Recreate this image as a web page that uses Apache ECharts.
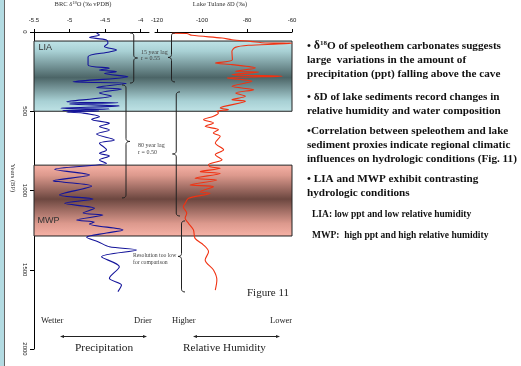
<!DOCTYPE html>
<html lang="en" style="height: 100%">
<head>
  <meta charset="utf-8">
</head>
<body style="height: 100%; margin: 0; background: #fff">
  <div id="container" style="width: 521px; height: 366px"></div>

  <script type="text/javascript" src="https://fastly.jsdelivr.net/npm/echarts@6.0.0/dist/echarts.min.js"></script>
  <script type="text/javascript">
// BRC speleothem d18O (permil vPDB) against age (years BP)
var brcYears = [6, 19, 33, 50, 71, 91, 114, 126, 156, 208, 229, 240, 250, 262, 282, 314, 324, 350, 360,
  385, 404, 440, 447, 454, 467, 481, 486, 495, 498, 505, 511, 534, 552, 576, 597, 618, 644, 681, 702,
  744, 765, 782, 807, 828, 866, 902, 940, 946, 972, 1028, 1054, 1081, 1112, 1142, 1155, 1186, 1199,
  1211, 1249, 1268, 1295, 1323, 1355, 1375, 1418, 1481, 1554, 1596, 1638];
var brcD18O = [-4.62, -4.58, -4.72, -4.48, -4.46, -4.51, -4.34, -4.44, -4.74, -4.74, -4.44, -4.58, -4.34,
  -4.51, -4.18, -4.95, -4.20, -4.62, -4.27, -4.58, -4.41, -5.04, -4.32, -5.00, -4.30, -5.12, -4.44,
  -5.10, -4.58, -5.04, -4.82, -4.58, -4.69, -4.44, -4.58, -4.44, -4.62, -4.37, -4.58, -4.48, -4.58,
  -4.44, -4.58, -4.48, -5.21, -4.72, -5.23, -5.10, -4.69, -5.14, -4.67, -5.07, -4.65, -4.81, -4.53,
  -4.90, -4.65, -4.72, -4.25, -4.48, -4.76, -4.60, -4.44, -4.06, -4.55, -4.30, -4.44, -4.27, -4.32];

// Lake Tulane dD (permil) against age (years BP)
var tulaneYears = [8, 9, 21, 38, 49, 59, 69, 71, 76, 84, 97, 122, 175, 196, 206, 227, 248, 252, 269, 279,
  290, 311, 343, 364, 385, 406, 427, 437, 479, 490, 500, 511, 532, 553, 574, 595, 616, 637, 658, 700,
  743, 774, 806, 837, 850, 860, 881, 892, 923, 934, 965, 976, 1008, 1018, 1049, 1081, 1102, 1144,
  1175, 1207, 1249, 1302, 1344, 1386, 1438, 1502, 1565, 1628];
var tulaneDD = [-113.4, -106.8, -104.5, -91.1, -86.7, -78.5, -71.8, -60, -66, -79.4, -85.2, -86.7, -86.5,
  -94.1, -86.7, -76.3, -85.2, -74.8, -86.7, -64.4, -88.9, -77.8, -86.7, -77.0, -85.0, -80.7, -86.7,
  -80.7, -91.9, -88.2, -93.4, -92.7, -94.9, -99.3, -94.9, -98.6, -92.7, -95.0, -91.9, -94.1, -90.4,
  -94.1, -91.1, -97.1, -96.4, -91.9, -100.8, -91.9, -103.1, -93.4, -105.3, -94.9, -100.8, -96.4,
  -106.0, -107.5, -108.3, -106.8, -107.5, -106.0, -103.8, -103.1, -99.3, -97.1, -98.6, -94.9, -93.4, -94.1];

var brcTicks = [-5.5, -5, -4.5, -4];
var tulaneTicks = [-120, -100, -80, -60];
var yearTicks = [0, 500, 1000, 1500, 2000];

// climate periods (years BP)
var liaSpan = [57, 500];
var mwpSpan = [840, 1287];

// lag comparison spans (years BP)
var speleoSpans = [[6, 322], [334, 1047]];
var lakeSpans = [[6, 315], [378, 1161], [1192, 1640]];

var SERIF = '"Liberation Serif", "DejaVu Serif", serif';
var SANS = '"Liberation Sans", Arial, sans-serif';

var dom = document.getElementById('container');
var myChart = echarts.init(dom, null, { renderer: 'canvas' });

function toPairs(xs, ys) {
  return ys.map(function (y, i) { return [xs[i], y]; });
}

function band(from, to, name, stops, labelPos) {
  return [
    {
      name: name,
      xAxis: 0,
      yAxis: from,
      itemStyle: {
        color: new echarts.graphic.LinearGradient(0, 0, 0, 1, stops),
        borderColor: '#222',
        borderWidth: 1
      },
      label: { show: true, position: labelPos }
    },
    { xAxis: 1, yAxis: to }
  ];
}

function topAxis(grid, min, max, ticks) {
  return {
    gridIndex: grid,
    type: 'value',
    position: 'top',
    min: min,
    max: max,
    axisLine: { show: true, lineStyle: { color: '#000', width: 1 } },
    axisTick: { show: true, length: 3, customValues: ticks, lineStyle: { color: '#000' } },
    axisLabel: { customValues: ticks, fontSize: 6, margin: 9, color: '#222', fontFamily: SANS },
    splitLine: { show: false }
  };
}

function yearAxis(grid, show) {
  return {
    gridIndex: grid,
    type: 'value',
    inverse: true,
    min: 0,
    max: 2000,
    interval: 500,
    show: show,
    axisLine: { show: true, lineStyle: { color: '#000', width: 1 } },
    axisTick: { show: true, length: 4, customValues: yearTicks, lineStyle: { color: '#000' } },
    axisLabel: {
      customValues: yearTicks,
      rotate: -90,
      fontSize: 6,
      margin: 6,
      color: '#222',
      fontFamily: SANS,
      formatter: function (v) { return String(v); }
    },
    splitLine: { show: false }
  };
}

var option = {
  animation: false,
  backgroundColor: '#fff',
  grid: [
    { left: 34, top: 32, width: 115, height: 317, outerBoundsMode: 'none' },
    { left: 155, top: 32, width: 137, height: 317, outerBoundsMode: 'none' },
    { left: 34, top: 32, width: 258, height: 317, outerBoundsMode: 'none' }
  ],
  xAxis: [
    topAxis(0, -5.5, -3.883, brcTicks),
    topAxis(1, -120.9, -60, tulaneTicks),
    { gridIndex: 2, type: 'value', min: 0, max: 1, show: false }
  ],
  yAxis: [yearAxis(0, true), yearAxis(1, false), yearAxis(2, false)],
  series: [
    {
      type: 'line',
      xAxisIndex: 2,
      yAxisIndex: 2,
      data: [[0, 0]],
      symbol: 'none',
      lineStyle: { opacity: 0 },
      silent: true,
      z: 1,
      markArea: {
        silent: true,
        label: { color: '#333', fontSize: 9, fontFamily: SANS, formatter: '{b}' },
        data: [
          band(liaSpan[0], liaSpan[1], 'LIA', [
            { offset: 0, color: '#c0e4e8' },
            { offset: 0.15, color: '#a8d0d4' },
            { offset: 0.52, color: '#4c6567' },
            { offset: 0.85, color: '#a8d0d4' },
            { offset: 1, color: '#bfe3e6' }
          ], [5, 2]),
          band(mwpSpan[0], mwpSpan[1], 'MWP', [
            { offset: 0, color: '#f7b2a6' },
            { offset: 0.15, color: '#dc998d' },
            { offset: 0.48, color: '#6c4740' },
            { offset: 0.82, color: '#dc998d' },
            { offset: 1, color: '#f7b2a6' }
          ], [4, 51])
        ]
      }
    },
    {
      name: 'BRC',
      type: 'line',
      xAxisIndex: 0,
      yAxisIndex: 0,
      data: toPairs(brcD18O, brcYears),
      showSymbol: false,
      smooth: 0.3,
      lineStyle: { color: '#14149a', width: 1.1 },
      z: 3
    },
    {
      name: 'Tulane',
      type: 'line',
      xAxisIndex: 1,
      yAxisIndex: 1,
      data: toPairs(tulaneDD, tulaneYears),
      showSymbol: false,
      smooth: 0.3,
      lineStyle: { color: '#f03212', width: 1.1 },
      z: 3
    }
  ]
};

myChart.setOption(option);

// annotations placed from the year scale
function py(year) {
  return myChart.convertToPixel({ yAxisIndex: 0 }, year);
}

// quadratic curve sampled into points
function quad(p0, p1, p2, out) {
  for (var i = 1; i <= 6; i++) {
    var t = i / 6, u = 1 - t;
    out.push([u * u * p0[0] + 2 * u * t * p1[0] + t * t * p2[0], u * u * p0[1] + 2 * u * t * p1[1] + t * t * p2[1]]);
  }
}

function brace(xEnd, xTip, span) {
  var y1 = py(span[0]), y2 = py(span[1]), ym = (y1 + y2) / 2;
  var s = (xEnd + xTip) / 2, r = 3;
  var pts = [[xEnd, y1]];
  quad([xEnd, y1], [s, y1], [s, y1 + r], pts);
  pts.push([s, ym - r]);
  quad([s, ym - r], [s, ym], [xTip, ym], pts);
  quad([xTip, ym], [s, ym], [s, ym + r], pts);
  pts.push([s, y2 - r]);
  quad([s, y2 - r], [s, y2], [xEnd, y2], pts);
  return {
    type: 'polyline',
    shape: { points: pts },
    style: { stroke: '#222', fill: null, lineWidth: 1 },
    z: 10
  };
}

function txt(x, y, text, size, opts) {
  opts = opts || {};
  return {
    type: 'text',
    x: x,
    y: y,
    rotation: opts.rotation || 0,
    z: 10,
    style: {
      text: text,
      fill: opts.color || '#111',
      font: (opts.bold ? 'bold ' : '') + size + 'px ' + (opts.family || SERIF),
      textAlign: opts.align || 'left',
      textVerticalAlign: 'middle',
      rich: opts.rich
    }
  };
}

function arrow(x1, x2, y) {
  return [
    { type: 'line', shape: { x1: x1 + 3, y1: y, x2: x2 - 3, y2: y }, style: { stroke: '#222', lineWidth: 1 }, z: 10 },
    { type: 'polygon', shape: { points: [[x1, y], [x1 + 4, y - 1.6], [x1 + 4, y + 1.6]] }, style: { fill: '#222' }, z: 10 },
    { type: 'polygon', shape: { points: [[x2, y], [x2 - 4, y - 1.6], [x2 - 4, y + 1.6]] }, style: { fill: '#222' }, z: 10 }
  ];
}

var bullets = [
  ['• {d|δ}{s|18}O of speleothem carbonates suggests', 46],
  ['large  variations in the amount of', 60],
  ['precipitation (ppt) falling above the cave', 74],
  ['• δD of lake sediments record changes in', 97],
  ['relative humidity and water composition', 111],
  ['•Correlation between speleothem and lake', 131],
  ['sediment proxies indicate regional climatic', 145],
  ['influences on hydrologic conditions (Fig. 11)', 159],
  ['• LIA and MWP exhibit contrasting', 179],
  ['hydrologic conditions', 193]
];

var graphics = [
  { type: 'rect', shape: { x: 0, y: 0, width: 4, height: 366 }, style: { fill: '#b3dbe2' }, z: 10 },
  { type: 'line', shape: { x1: 4.5, y1: 0, x2: 4.5, y2: 366 }, style: { stroke: '#666', lineWidth: 1 }, z: 10 },
  txt(83, 4, 'BRC δ{s|18}O (‰ vPDB)', 6.5, { align: 'center', color: '#333', rich: { s: { fontSize: 4.5, fontFamily: SERIF, padding: [0, 0, 3, 0] } } }),
  txt(220, 4, 'Lake Tulane δD (‰)', 6.5, { align: 'center', color: '#333' }),
  txt(13, 178, 'Years (BP)', 6.5, { align: 'center', color: '#333', rotation: -Math.PI / 2 }),
  brace(130, 137.5, speleoSpans[0]),
  brace(122, 130, speleoSpans[1]),
  brace(175, 168, lakeSpans[0]),
  brace(180, 172.5, lakeSpans[1]),
  brace(185, 178, lakeSpans[2]),
  txt(141, 52, '15 year lag', 6, { color: '#444' }),
  txt(141, 58.5, 'r = 0.55', 6, { color: '#444' }),
  txt(138, 145, '80 year lag', 6, { color: '#444' }),
  txt(138, 152, 'r = 0.50', 6, { color: '#444' }),
  txt(133, 256, 'Resolution too low', 5.7, { color: '#444' }),
  txt(133, 263, 'for comparison', 5.7, { color: '#444' }),
  txt(247, 293, 'Figure 11', 11, { color: '#222' }),
  txt(41, 321, 'Wetter', 8.5, { color: '#222' }),
  txt(134, 321, 'Drier', 8.5, { color: '#222' }),
  txt(172, 321, 'Higher', 8.5, { color: '#222' }),
  txt(270, 321, 'Lower', 8.5, { color: '#222' }),
  txt(75, 348, 'Precipitation', 11.4, { color: '#222' }),
  txt(183, 348, 'Relative Humidity', 11.2, { color: '#222' }),
  txt(312, 215, 'LIA: low ppt and low relative humidity', 9.5, { bold: true }),
  txt(312, 236, 'MWP:  high ppt and high relative humidity', 9.5, { bold: true })
].concat(arrow(60, 147, 336.5), arrow(193, 280, 336.5));

bullets.forEach(function (b) {
  graphics.push(txt(307, b[1], b[0], 11.2, {
    bold: true,
    rich: {
      d: { fontSize: 12, fontWeight: 'bold', fontFamily: SERIF },
      s: { fontSize: 7, fontWeight: 'bold', fontFamily: SERIF, padding: [0, 0, 5, 0] }
    }
  }));
});

myChart.setOption({ graphic: graphics });

window.addEventListener('resize', myChart.resize);
  </script>
</body>
</html>
